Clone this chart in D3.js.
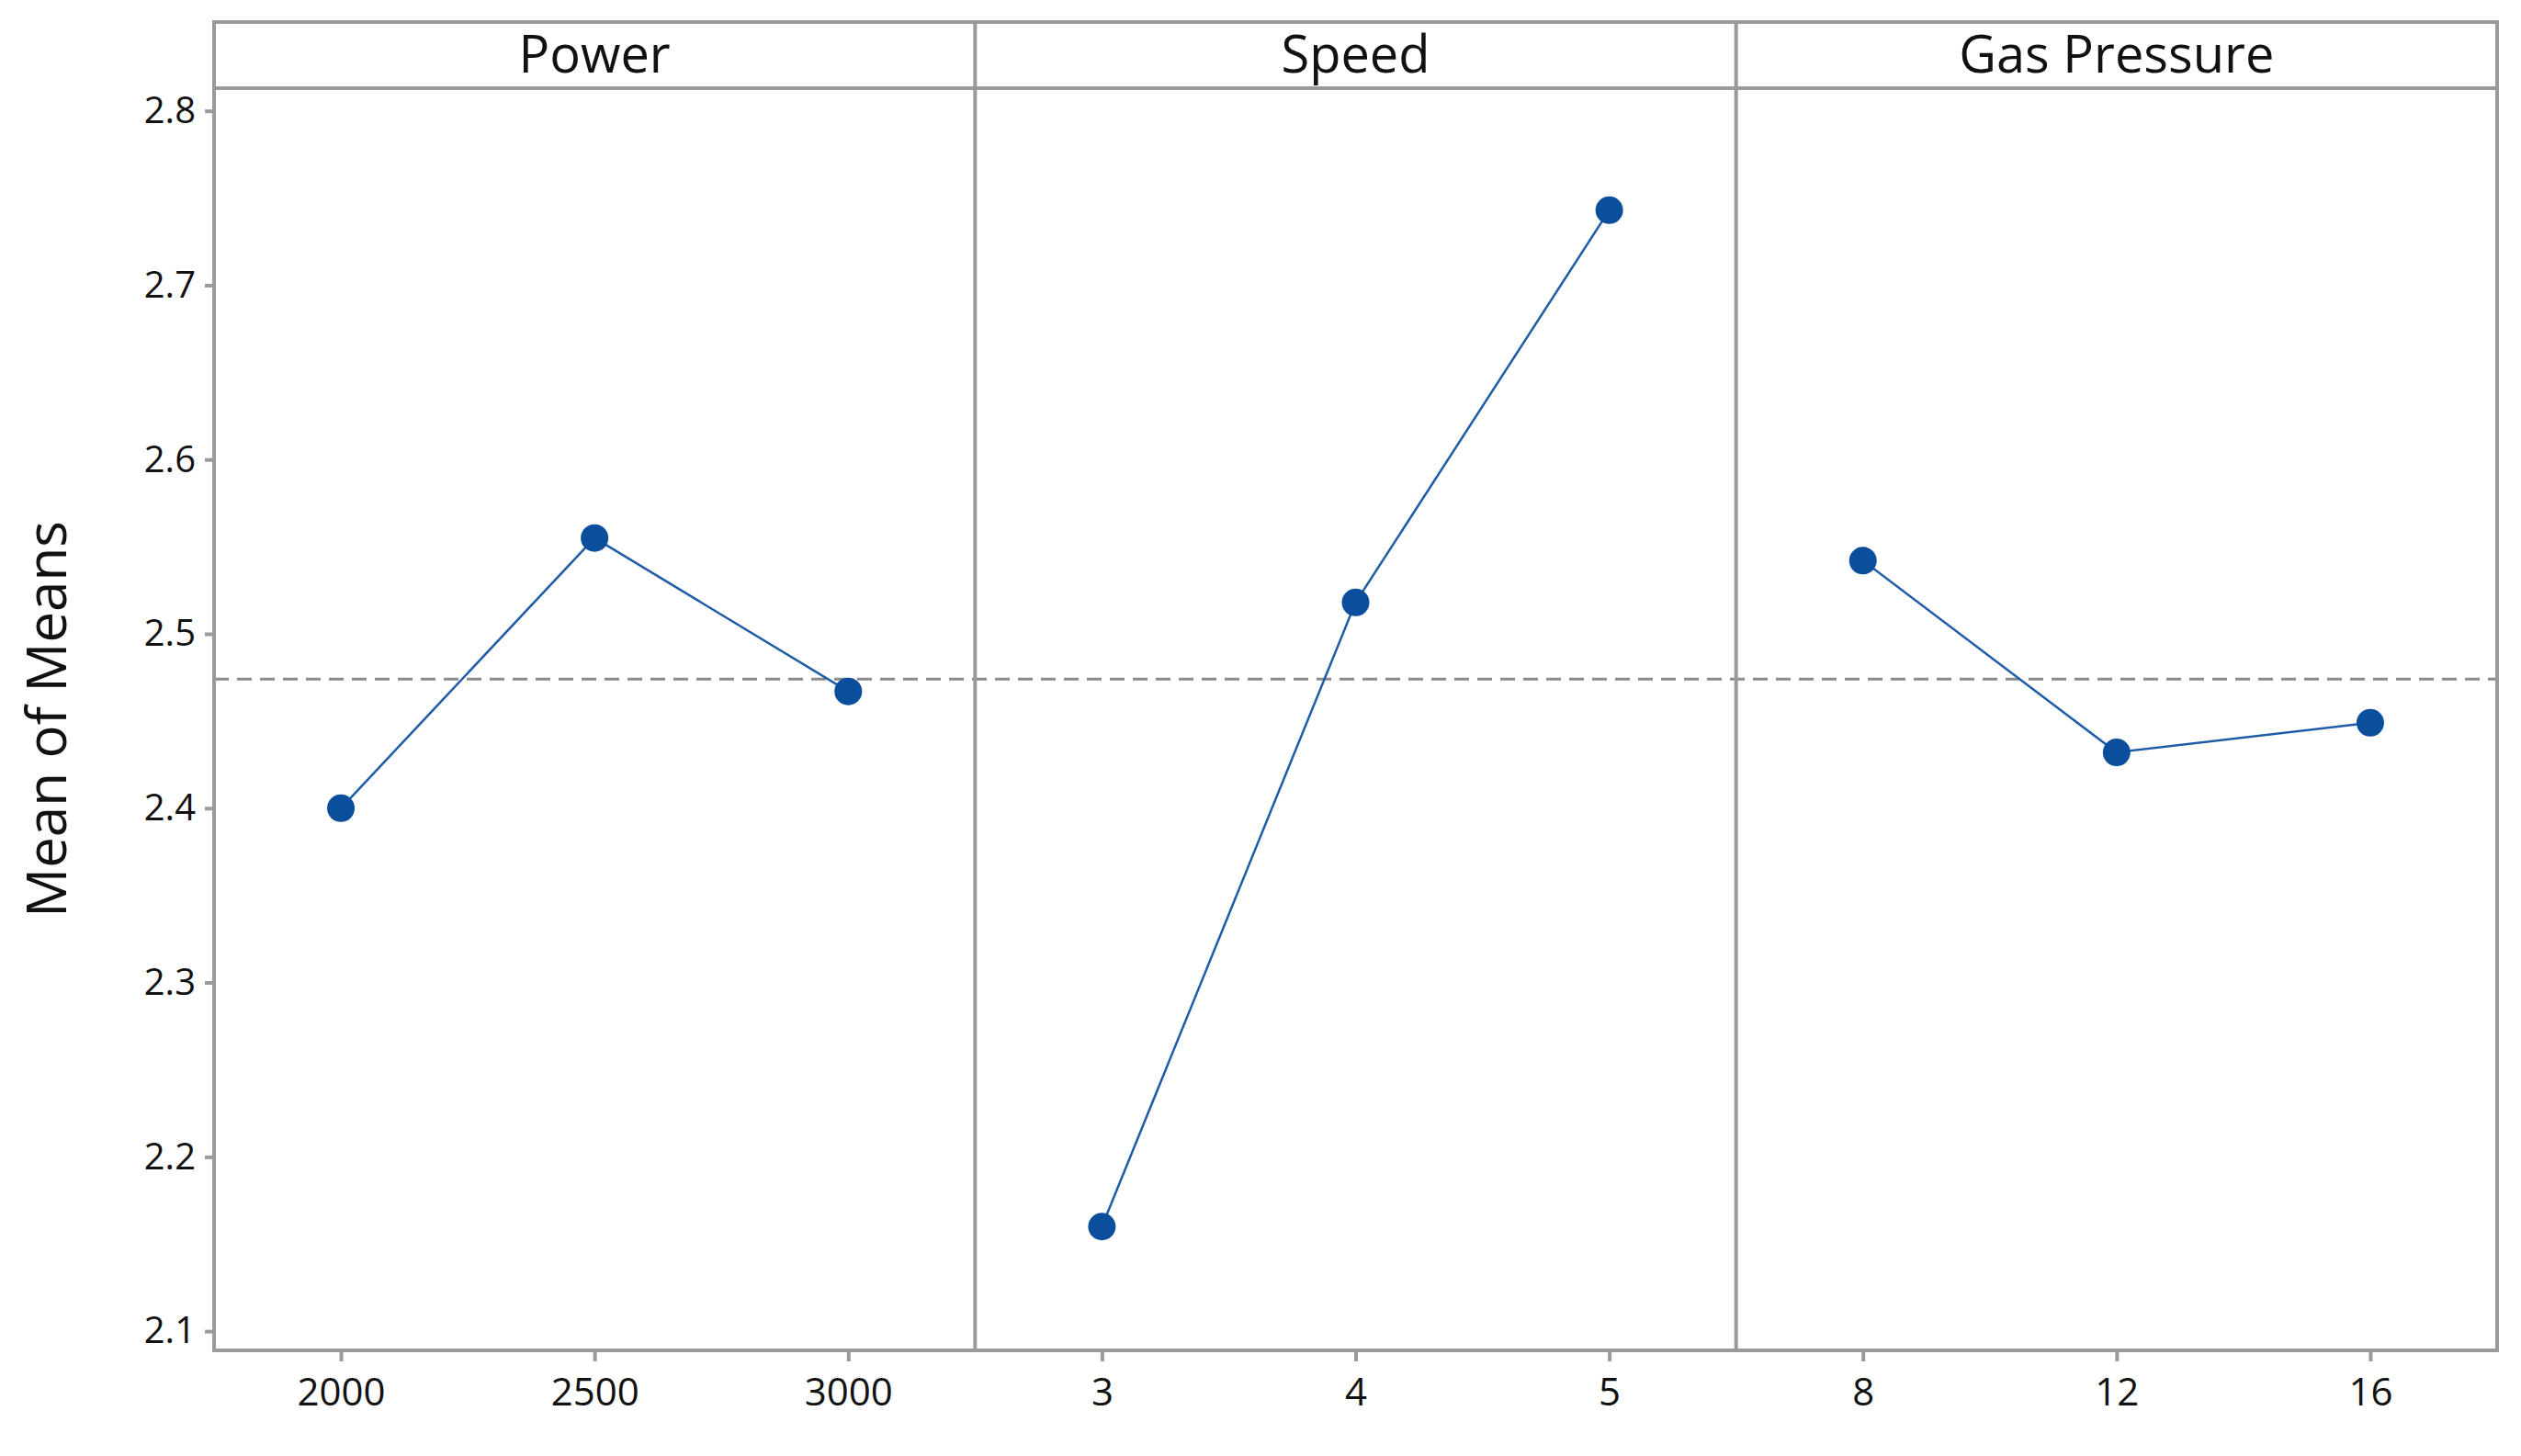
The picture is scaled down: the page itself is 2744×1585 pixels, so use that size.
<!DOCTYPE html>
<html><head><meta charset="utf-8">
<script src="https://cdn.jsdelivr.net/npm/d3@7"></script>
<style>body{margin:0;background:#fff}</style></head>
<body><svg id="c" width="2744" height="1585"></svg>
<script>
const factors = ["Power", "Speed", "Gas Pressure"];
const levels = [["2000","2500","3000"],["3","4","5"],["8","12","16"]];
const means = [[2.400,2.555,2.467],[2.160,2.518,2.743],[2.542,2.432,2.449]];
const grandMean = 2.474;
const yTicks = [2.1,2.2,2.3,2.4,2.5,2.6,2.7,2.8];

const svg = d3.select("#c");
const L=233, R=2718, T=24, S=96, B=1470;
const pw=(R-L)/3;
const gray="#9a9a9a", blue="#1f5ca8", dot="#0b4f9c";
const font="'Open Sans', 'Noto Sans', sans-serif";
const y=d3.scaleLinear().domain([2.089,2.813]).range([B,S]);

const ya=svg.append("g").attr("transform",`translate(${L},0)`).call(d3.axisLeft(y).tickValues(yTicks).tickFormat(d3.format(".1f")).tickSize(10).tickPadding(10));
ya.select(".domain").remove();
ya.selectAll("line").attr("stroke",gray).attr("stroke-width",4);
ya.selectAll("text").attr("font-family",font).attr("font-size",40).attr("fill","#111");

svg.append("line").attr("x1",L).attr("x2",R).attr("y1",y(grandMean)).attr("y2",y(grandMean))
  .attr("stroke","#8a8a8a").attr("stroke-width",3).attr("stroke-dasharray","16,9");

factors.forEach((f,i)=>{
  const x0=L+i*pw;
  const x=d3.scalePoint().domain(levels[i]).range([x0,x0+pw]).padding(0.5);
  const xa=svg.append("g").attr("transform",`translate(0,${B})`).call(d3.axisBottom(x).tickSize(12).tickPadding(18));
  xa.select(".domain").remove();
  xa.selectAll("line").attr("stroke",gray).attr("stroke-width",4);
  xa.selectAll("text").attr("font-family",font).attr("font-size",42).attr("fill","#111");
  const pts=levels[i].map((l,j)=>[x(l),y(means[i][j])]);
  svg.append("path").attr("d",d3.line()(pts)).attr("fill","none").attr("stroke",blue).attr("stroke-width",2.5);
  svg.selectAll(null).data(pts).join("circle").attr("cx",d=>d[0]).attr("cy",d=>d[1]).attr("r",15).attr("fill",dot);
  svg.append("text").attr("x",x0+pw/2).attr("y",(T+S)/2+19).attr("text-anchor","middle")
    .attr("font-family",font).attr("font-size",56).attr("fill","#111").text(f);
  if(i>0) svg.append("line").attr("x1",x0).attr("x2",x0).attr("y1",T).attr("y2",B).attr("stroke",gray).attr("stroke-width",4);
});

svg.append("rect").attr("x",L).attr("y",T).attr("width",R-L).attr("height",B-T).attr("fill","none").attr("stroke",gray).attr("stroke-width",4);
svg.append("line").attr("x1",L).attr("x2",R).attr("y1",S).attr("y2",S).attr("stroke",gray).attr("stroke-width",4);

svg.append("text").attr("transform",`translate(72,${(S+B)/2}) rotate(-90)`).attr("text-anchor","middle")
  .attr("font-family",font).attr("font-size",60).attr("fill","#111").text("Mean of Means");
</script></body></html>
